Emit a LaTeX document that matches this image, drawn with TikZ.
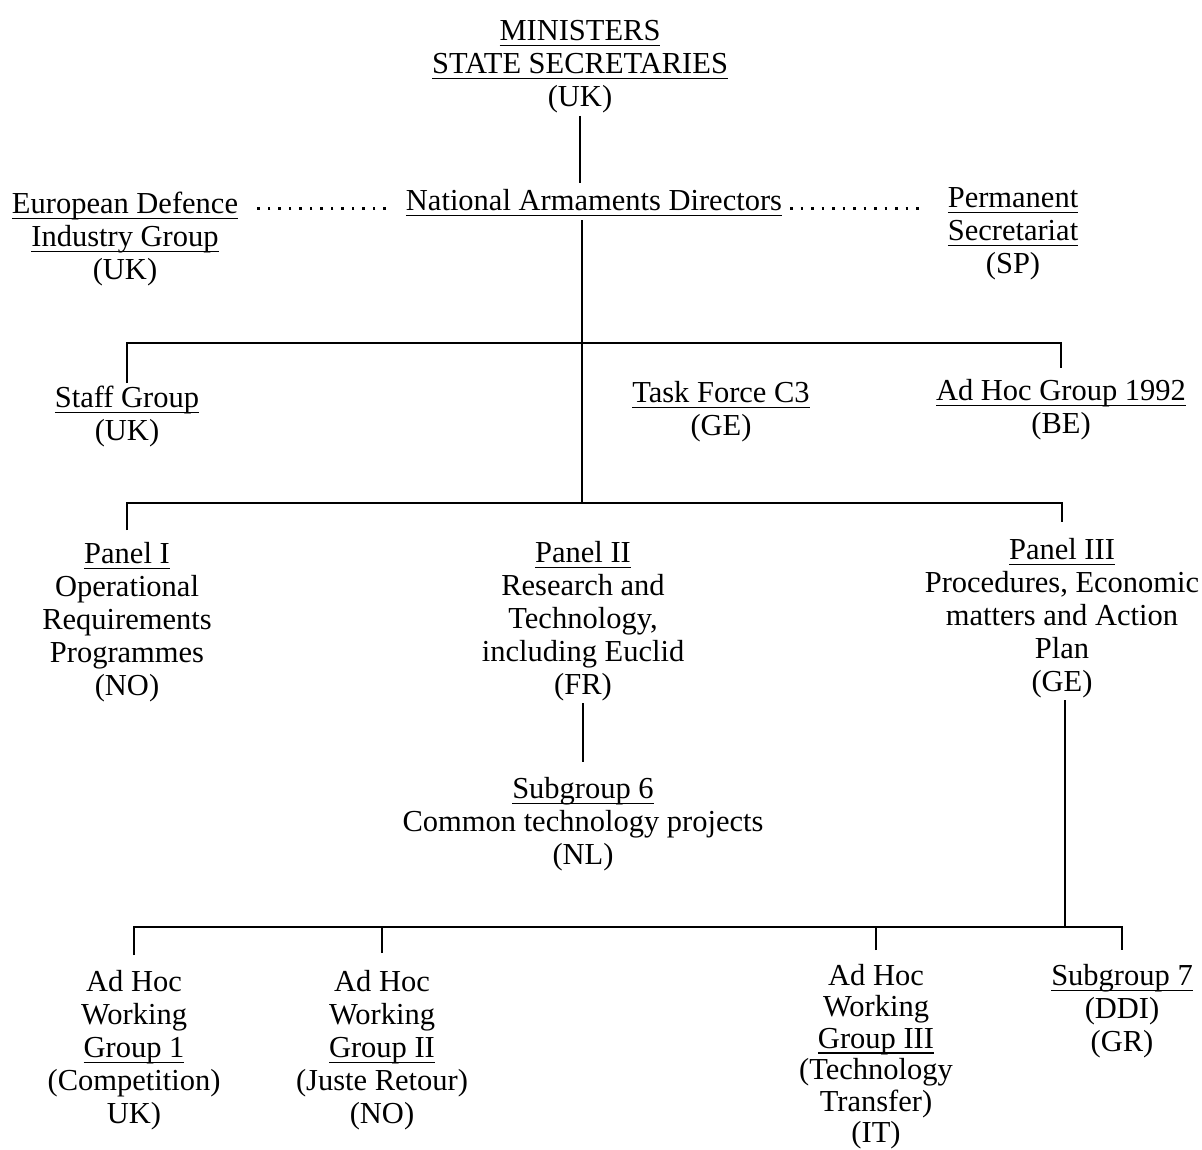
\documentclass[tikz,border=0pt]{standalone}
\usepackage{fontspec}
\setmainfont{Liberation Serif}
\newcommand\ul[1]{\leavevmode\setbox0\hbox{#1}\rlap{\rule[-6pt]{\wd0}{1.8pt}}\copy0}
\tikzset{
  box/.style={align=center, inner sep=0pt, anchor=north, font=\fontsize{30.5}{33}\selectfont},
  tightbox/.style={box, font=\fontsize{30.5}{31.5}\selectfont},
  conn/.style={line width=1.5pt},
  dotline/.style={line width=2.5pt, dash pattern=on 2.5pt off 8pt}
}
\begin{document}
\begin{tikzpicture}[x=1pt,y=-1pt]
\useasboundingbox (0,0) rectangle (1202,1149);
\node[box] (min) at (580,17) {\strut\ul{MINISTERS}\\ \ul{STATE SECRETARIES}\\ (UK)};
\node[box] (nad) at (594,187) {\strut\ul{National Armaments Directors}};
\node[box] (edig) at (125,190) {\strut\ul{European Defence}\\ \ul{Industry Group}\\ (UK)};
\node[box] (perm) at (1013,184) {\strut\ul{Permanent}\\ \ul{Secretariat}\\ (SP)};
\node[box] (staff) at (127,384) {\strut\ul{Staff Group}\\ (UK)};
\node[box] (task) at (721,379) {\strut\ul{Task Force C3}\\ (GE)};
\node[box] (adhoc) at (1061,377) {\strut\ul{Ad Hoc Group 1992}\\ (BE)};
\node[box] (p1) at (127,540) {\strut\ul{Panel I}\\ Operational\\ Requirements\\ Programmes\\ (NO)};
\node[box] (p2) at (583,539) {\strut\ul{Panel II}\\ Research and\\ Technology,\\ including Euclid\\ (FR)};
\node[box] (p3) at (1062,536) {\strut\ul{Panel III}\\ Procedures, Economic\\ matters and Action\\ Plan\\ (GE)};
\node[box] (sg6) at (583,775) {\strut\ul{Subgroup 6}\\ Common technology projects\\ (NL)};
\node[box] (wg1) at (134,968) {\strut Ad Hoc\\ Working\\ \ul{Group 1}\\ (Competition)\\ UK)};
\node[box] (wg2) at (382,968) {\strut Ad Hoc\\ Working\\ \ul{Group II}\\ (Juste Retour)\\ (NO)};
\node[tightbox] (wg3) at (876,963) {\strut Ad Hoc\\ Working\\ \ul{Group III}\\ (Technology\\ Transfer)\\ (IT)};
\node[box] (sg7) at (1122,962) {\strut\ul{Subgroup 7}\\ (DDI)\\ (GR)};
\coordinate (b1) at (582,343);
\coordinate (b2) at (582,503);
\coordinate (b3) at (1065,927);
% connectors
\draw[conn] ([yshift=-3pt]min.south) -- ([yshift=4pt]min.south |- nad.north);
\draw[conn] (b2 |- nad.south) -- (b2);
\draw[conn] ([yshift=1pt]staff.north) |- (b1) -| ([yshift=9pt]adhoc.north);
\draw[conn] ([yshift=10pt]p1.north) |- (b2) -| ([yshift=14pt]p3.north);
\draw[conn] ([yshift=-2pt]p2.south) -- ([yshift=13pt]sg6.north);
\draw[conn] ([xshift=3pt,yshift=-2pt]p3.south) -- (b3);
\draw[conn] ([yshift=13pt]wg1.north) |- (b3) -| ([yshift=12pt]sg7.north);
\draw[conn] ([yshift=15pt]wg2.north) -- (wg2.north |- b3);
\draw[conn] ([yshift=13pt]wg3.north) -- (wg3.north |- b3);
% dotted links
\draw[dotline] ([xshift=-20pt,yshift=2pt]nad.base west) -- ([xshift=17pt,yshift=2pt]nad.base west -| edig.east);
\draw[dotline] ([xshift=8pt,yshift=2pt]nad.base east) -- ([xshift=-22pt,yshift=2pt]nad.base east -| perm.west);
\end{tikzpicture}
\end{document}
